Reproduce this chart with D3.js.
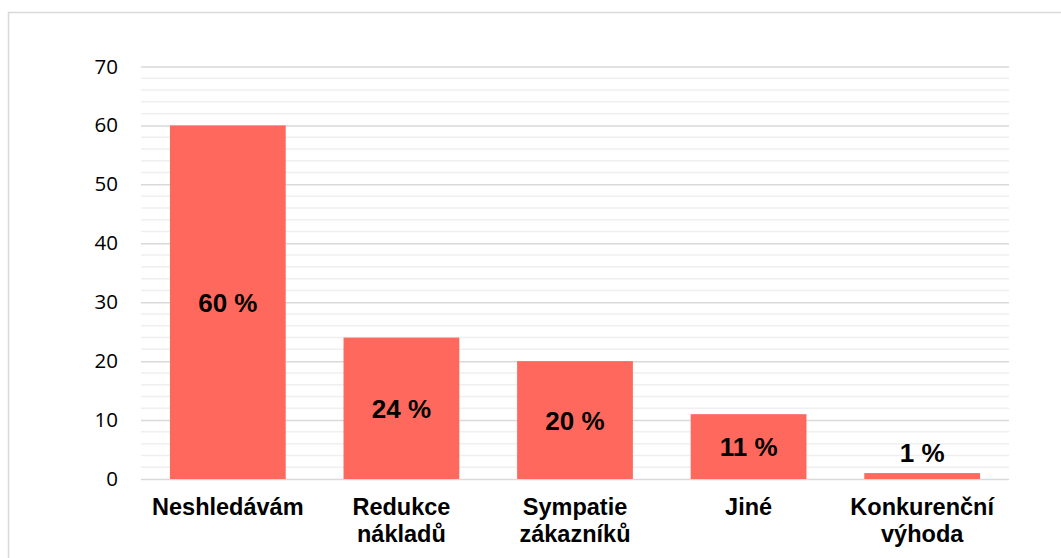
<!DOCTYPE html>
<html>
<head>
<meta charset="utf-8">
<script src="https://cdn.jsdelivr.net/npm/d3@7"></script>
<style>
  html, body { margin: 0; padding: 0; background: #fff; }
  svg { display: block; }
</style>
</head>
<body>
<div id="container"></div>
<script>
//DATA
const categories = ['Neshledávám', 'Redukce nákladů', 'Sympatie zákazníků', 'Jiné', 'Konkurenční výhoda']
const values = [60, 24, 20, 11, 1]
const labels = ['60 %', '24 %', '20 %', '11 %', '1 %']
const yTicks = [0, 10, 20, 30, 40, 50, 60, 70]

//BOX
const w = 1061
const h = 558
const plot = { left: 141, right: 1009, top: 66.5, bottom: 479 }

const svg = d3.select('#container')
    .append('svg')
    .attr('width', w)
    .attr('height', h)

//FRAME
svg.append('rect')
    .attr('x', 8.5)
    .attr('y', 12.5)
    .attr('width', w + 10)
    .attr('height', h + 10)
    .attr('fill', 'none')
    .attr('stroke', '#d9d9d9')
    .attr('stroke-width', 1.5)

//SCALES
const xscale = d3.scaleBand()
    .domain(categories)
    .range([plot.left, plot.right])
    .paddingInner(0.333)
    .paddingOuter(0.1667)

const yscale = d3.scaleLinear()
    .domain([0, 70])
    .range([plot.bottom, plot.top])

//MINOR GRID
svg.append('g')
    .selectAll('line')
    .data(d3.range(0, 70, 2).filter(d => d % 10 !== 0))
    .enter()
    .append('line')
    .attr('x1', plot.left)
    .attr('x2', plot.right)
    .attr('y1', d => yscale(d))
    .attr('y2', d => yscale(d))
    .attr('stroke', '#efefef')
    .attr('stroke-width', 1.5)

//MAJOR GRID + Y AXIS
const yaxis = d3.axisLeft(yscale)
    .tickValues(yTicks)
    .tickSize(-(plot.right - plot.left))
    .tickPadding(23)

svg.append('g')
    .attr('class', 'y axis')
    .attr('transform', 'translate(' + plot.left + ',0)')
    .attr('font-size', null)
    .attr('font-family', null)
    .call(yaxis)
    .call(g => g.select('.domain').remove())
    .call(g => g.selectAll('.tick line').attr('stroke', '#d9d9d9').attr('stroke-width', 1.5))
    .call(g => g.selectAll('.tick text')
        .attr('fill', '#000')
        .attr('font-family', '"Open Sans", sans-serif')
        .attr('font-size', 20.5))

//BARS
svg.append('g')
    .selectAll('rect')
    .data(values)
    .enter()
    .append('rect')
    .attr('x', (d, i) => xscale(categories[i]))
    .attr('y', d => yscale(d))
    .attr('width', xscale.bandwidth())
    .attr('height', d => yscale(0) - yscale(d))
    .attr('fill', '#ff695d')

//DATA LABELS (centre of bar, above when the bar is too small)
svg.append('g')
    .selectAll('text')
    .data(values)
    .enter()
    .append('text')
    .attr('x', (d, i) => xscale(categories[i]) + xscale.bandwidth() / 2)
    .attr('y', d => d < 5 ? yscale(d) - 11.5 : (yscale(d) + yscale(0)) / 2 + 9.5)
    .attr('text-anchor', 'middle')
    .style('font-family', '"Liberation Sans", Arial, sans-serif')
    .style('font-weight', 'bold')
    .style('font-size', '26px')
    .attr('fill', '#000')
    .text((d, i) => labels[i])

//CATEGORY LABELS
const catGroup = svg.append('g')
    .selectAll('text')
    .data(categories)
    .enter()
    .append('text')
    .attr('x', d => xscale(d) + xscale.bandwidth() / 2)
    .attr('y', 515)
    .attr('text-anchor', 'middle')
    .style('font-family', '"Liberation Sans", Arial, sans-serif')
    .style('font-weight', 'bold')
    .style('font-size', '23.5px')
    .attr('fill', '#000')

catGroup.selectAll('tspan')
    .data(d => d.split(' '))
    .enter()
    .append('tspan')
    .attr('x', function() { return d3.select(this.parentNode).attr('x') })
    .attr('dy', (d, i) => i === 0 ? 0 : 27)
    .text(d => d)
</script>
</body>
</html>
